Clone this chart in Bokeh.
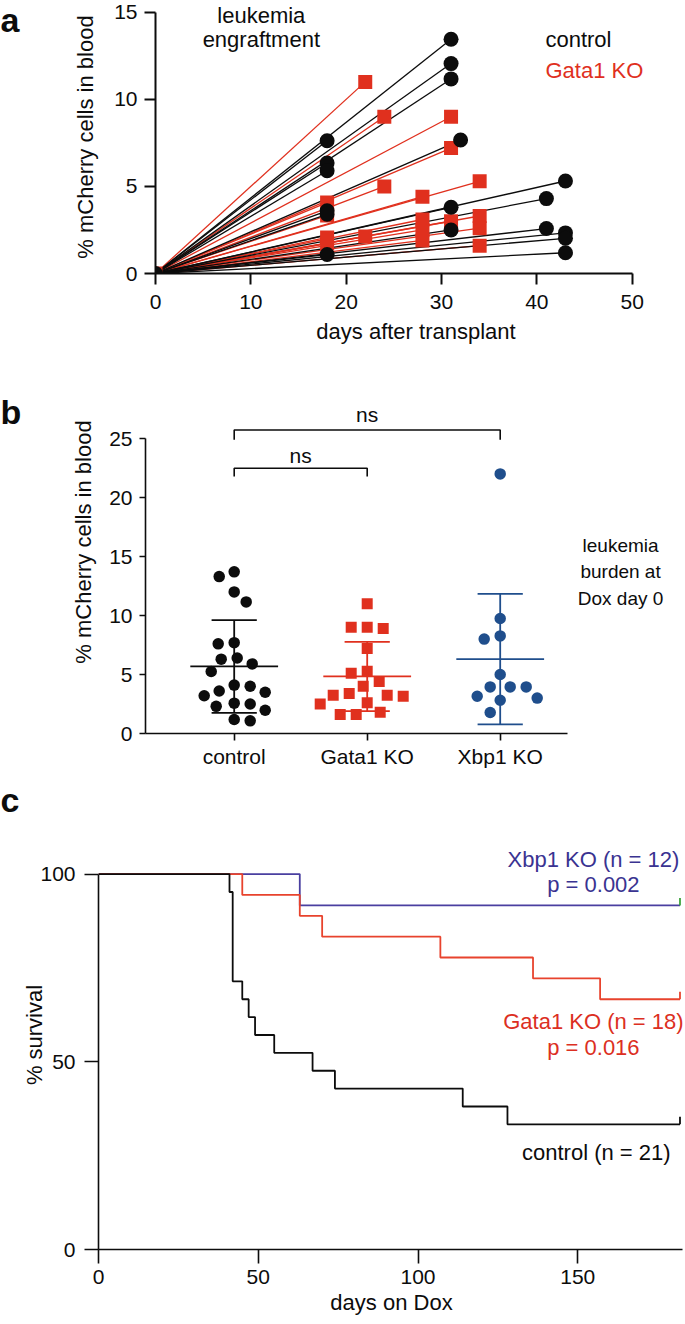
import numpy as np
from bokeh.plotting import figure
from bokeh.layouts import column, row
from bokeh.models import Range1d, FixedTicker
from bokeh.embed import file_html
from bokeh.resources import INLINE
from bokeh.core.properties import value

# ---------------- data: panel a (engraftment) ----------------
a_control_day = [18, 18, 18, 18, 18, 18, 31, 31, 31, 31, 31, 32, 41, 41, 43, 43, 43, 43]
a_control_pct = [7.62, 6.34, 5.9, 3.6, 3.4, 1.09, 13.45, 12.05, 11.17, 3.8, 2.5, 7.66,
                 4.3, 2.58, 5.31, 2.33, 2.02, 1.19]
a_gata1_day = [18, 18, 18, 18, 22, 22, 24, 24, 28, 28, 28, 28, 31, 31, 31, 34, 34, 34, 34]
a_gata1_pct = [4.07, 3.33, 2.07, 1.72, 11.0, 2.12, 9.0, 5.0, 4.41, 3.1, 2.5, 1.9,
               9.0, 7.2, 3.0, 5.29, 3.3, 2.6, 1.6]
a_xticks = [0, 10, 20, 30, 40, 50]
a_yticks = [0, 5, 10, 15]

# ---------------- data: panel b (burden at Dox day 0) ----------------
b_categories = ["control", "Gata1 KO", "Xbp1 KO"]
b_control = [13.7, 13.3, 12.0, 11.15, 7.6, 7.7, 6.3, 6.4, 5.9, 5.25, 4.0, 4.1, 3.2, 3.5,
             3.6, 2.3, 1.97, 2.5, 2.57, 1.07, 1.19]
b_gata1 = [11.0, 8.9, 9.0, 9.0, 7.2, 5.28, 5.1, 4.4, 3.4, 4.0, 2.6, 2.5, 3.25, 3.15,
           3.25, 1.6, 1.6, 1.8]
b_xbp1 = [22.0, 9.75, 8.27, 8.0, 5.0, 3.95, 3.95, 3.95, 3.16, 3.0, 2.82, 1.78]
b_yticks = [0, 5, 10, 15, 20, 25]

# ---------------- data: panel c (survival) ----------------
c_control_death = [41, 42, 42, 42, 42, 42, 45, 47, 49, 55, 67, 74, 114, 128]
c_control_censor = [182, 182, 182, 182, 182, 182, 182]
c_gata1_death = [45, 63, 70, 107, 136, 157]
c_gata1_censor = [182, 182, 182, 182, 182, 182, 182, 182, 182, 182, 182, 182]
c_xbp1_death = [63]
c_xbp1_censor = [182, 182, 182, 182, 182, 182, 182, 182, 182, 182, 182]
c_xticks = [0, 50, 100, 150]
c_yticks = [0, 50, 100]

FONT = "Liberation Sans"
BLACK = "#0c0c0c"
RED = "#e0301e"
BLUE = "#1f4e8c"
KM_RED = "#e8432d"
KM_BLUE = "#4a3fa0"
TXT_BLUE = "#3a3391"
TXT_RED = "#dc2f22"
GREEN = "#3ca33c"
STRIP = 24
W = 685
BASE_SHIFT = 0.35   # measured em offset of rendered baseline


def base_fig(**kw):
    return figure(output_backend="svg", toolbar_location=None, frame_align=False, **kw)


def style(p, tick_len, lw):
    for ax in (p.xaxis[0], p.yaxis[0]):
        ax.major_tick_out = tick_len
        ax.major_tick_in = 0
        ax.minor_tick_line_color = None
        ax.axis_line_width = lw
        ax.major_tick_line_width = lw
        ax.axis_line_color = BLACK
        ax.major_tick_line_color = BLACK
        ax.major_label_text_font = FONT
        ax.major_label_text_font_size = "21px"
        ax.major_label_text_color = BLACK
        ax.axis_label_text_font = FONT
        ax.axis_label_text_font_size = "22px"
        ax.axis_label_text_font_style = "normal"
        ax.axis_label_text_color = BLACK
    p.xgrid.visible = False
    p.ygrid.visible = False
    p.outline_line_color = None
    p.background_fill_color = "white"
    p.border_fill_color = "white"


def txt(p, x, y, s, ppy, color=BLACK, size=22, align="center"):
    # y is the wanted baseline (data units); lift by the measured render offset
    p.text(x=[x], y=[y + BASE_SHIFT * size / ppy], text=[s], text_font=value(FONT),
           text_font_size=value(f"{size}px"), text_color=color, text_align=align,
           text_baseline="alphabetic")


# ======================= panel a =======================
H1 = 350
W1 = W - STRIP
L1, R1, B1 = 131, W1 - 9, 273
ppx1, ppy1 = 9.534, 17.42
p1 = base_fig(width=W1, height=H1,
              x_range=Range1d(0, (R1 - L1) / ppx1), y_range=Range1d(0, B1 / ppy1),
              min_border_left=L1, min_border_right=W1 - R1, min_border_top=0,
              min_border_bottom=H1 - B1)
style(p1, 11, 2)
p1.xaxis.bounds = (a_xticks[0], a_xticks[-1])
p1.yaxis.bounds = (a_yticks[0], a_yticks[-1])
p1.xaxis.ticker = FixedTicker(ticks=a_xticks)
p1.yaxis.ticker = FixedTicker(ticks=a_yticks)
p1.xaxis.axis_label = "days after transplant"
p1.yaxis.axis_label = "% mCherry cells in blood"
p1.xaxis.major_label_standoff = 10
p1.xaxis.axis_label_standoff = 7
p1.yaxis.major_label_standoff = 7
p1.yaxis.axis_label_standoff = 13

p1.segment(x0=[0] * len(a_gata1_day), y0=[0] * len(a_gata1_day), x1=a_gata1_day,
           y1=a_gata1_pct, line_color=RED, line_width=1.3)
p1.segment(x0=[0] * len(a_control_day), y0=[0] * len(a_control_day), x1=a_control_day,
           y1=a_control_pct, line_color=BLACK, line_width=1.3)
p1.scatter(x=a_gata1_day + [0], y=a_gata1_pct + [0], marker="square", size=14,
           fill_color=RED, line_color=None)
p1.scatter(x=a_control_day + [0], y=a_control_pct + [0], marker="circle", size=15,
           fill_color=BLACK, line_color=None)
txt(p1, 11.1, 14.35, "leukemia", ppy1)
txt(p1, 11.1, 13.0, "engraftment", ppy1)
txt(p1, 40.9, 13.0, "control", ppy1, align="left")
txt(p1, 40.9, 11.21, "Gata1 KO", ppy1, color=RED, align="left")

# ======================= panel b =======================
H2 = 470
W2 = W - STRIP
L2, R2, B2 = 121, W2 - 2, 383
ppx2, c1px = 133.0, 209.7
ppy2 = 11.8
xs2 = 1 - (c1px - L2) / ppx2
p2 = base_fig(width=W2, height=H2,
              x_range=Range1d(xs2, 1 + (R2 - c1px) / ppx2),
              y_range=Range1d(0, B2 / ppy2),
              min_border_left=L2, min_border_right=W2 - R2, min_border_top=0,
              min_border_bottom=H2 - B2)
style(p2, 6, 1.6)
cat_pos = [1, 2, 3]
p2.xaxis.bounds = (xs2, 3.506)
p2.yaxis.bounds = (b_yticks[0], b_yticks[-1])
p2.xaxis.ticker = FixedTicker(ticks=cat_pos)
p2.xaxis.major_label_overrides = {c: n for c, n in zip(cat_pos, b_categories)}
p2.xaxis.major_tick_out = 7
p2.yaxis.ticker = FixedTicker(ticks=b_yticks)
p2.yaxis.axis_label = "% mCherry cells in blood"
p2.xaxis.major_label_standoff = 4
p2.yaxis.major_label_standoff = 7
p2.yaxis.axis_label_standoff = 10


def swarm(vals, diam):
    n = len(vals)
    order = sorted(range(n), key=lambda i: -vals[i])
    placed = []
    offs = [0.0] * n
    left = right = 0
    for i in order:
        y = vals[i] * ppy2
        chosen = 0
        for d in range(0, 80):
            cands = [0] if d == 0 else ([-d, d] if left <= right else [d, -d])
            ok = None
            for c in cands:
                if all((c - ox) ** 2 + (y - oy) ** 2 >= diam ** 2 for ox, oy in placed):
                    ok = c
                    break
            if ok is not None:
                chosen = ok
                break
        if chosen < 0:
            left += 1
        elif chosen > 0:
            right += 1
        placed.append((chosen, y))
        offs[i] = chosen / ppx2
    return offs


groups = [(b_control, "circle", 11.5, BLACK), (b_gata1, "square", 11, RED),
          (b_xbp1, "circle", 11.5, BLUE)]
for pos, (vals, mk, sz, col) in zip(cat_pos, groups):
    offs = swarm(vals, 15.5)
    p2.scatter(x=[pos + o for o in offs], y=vals, marker=mk, size=sz,
               fill_color=col, line_color=None)
for pos, (vals, mk, sz, col) in zip(cat_pos, groups):
    m = float(np.mean(vals))
    sd = float(np.std(vals, ddof=1))
    p2.segment(x0=[pos - 0.33, pos - 0.17, pos - 0.17, pos],
               x1=[pos + 0.33, pos + 0.17, pos + 0.17, pos],
               y0=[m, m + sd, m - sd, m - sd], y1=[m, m + sd, m - sd, m + sd],
               line_color=col, line_width=1.8)

p2.line(x=[1, 1, 3, 3], y=[24.89, 25.72, 25.72, 24.89], line_color=BLACK, line_width=1.6)
p2.line(x=[1, 1, 2, 2], y=[21.78, 22.48, 22.48, 21.78], line_color=BLACK, line_width=1.6)
txt(p2, 2.0, 26.38, "ns", ppy2, size=21)
txt(p2, 1.5, 22.9, "ns", ppy2, size=21)
txt(p2, 3.905, 15.38, "leukemia", ppy2, size=19)
txt(p2, 3.905, 13.14, "burden at", ppy2, size=19)
txt(p2, 3.905, 10.89, "Dox day 0", ppy2, size=19)

# ======================= panel letters strip =======================
HS = H1 + H2
LET = 34
strip = base_fig(width=STRIP, height=HS, x_range=Range1d(0, STRIP),
                 y_range=Range1d(HS, 0), x_axis_type=None, y_axis_type=None,
                 min_border=0)
strip.xgrid.visible = False
strip.ygrid.visible = False
strip.outline_line_color = None
strip.text(x=[0, 0, 0], y=[b - BASE_SHIFT * LET for b in (31, 423, 811)],
           text=["a", "b", "c"], text_font=value(FONT),
           text_font_size=value(f"{LET}px"), text_font_style="bold", text_color=BLACK,
           text_align="left", text_baseline="alphabetic")

# ======================= panel c =======================
H3 = 1324 - HS
L3, R3 = 98, 684
B3 = 1249 - HS
ppx3, ppy3 = 3.195, 3.754
p3 = base_fig(width=W, height=H3,
              x_range=Range1d(0, (R3 - L3) / ppx3), y_range=Range1d(0, B3 / ppy3),
              min_border_left=L3, min_border_right=W - R3, min_border_top=0,
              min_border_bottom=H3 - B3)
style(p3, 14, 1.6)
p3.xaxis.bounds = (0, 182.7)
p3.yaxis.bounds = (c_yticks[0], c_yticks[-1])
p3.xaxis.ticker = FixedTicker(ticks=c_xticks)
p3.yaxis.ticker = FixedTicker(ticks=c_yticks)
p3.xaxis.axis_label = "days on Dox"
p3.yaxis.axis_label = "% survival"
p3.xaxis.major_label_standoff = 6
p3.xaxis.axis_label_standoff = 3
p3.yaxis.major_label_standoff = 9
p3.yaxis.axis_label_standoff = -10


def km(deaths, censored):
    n = len(deaths) + len(censored)
    xs, ys, s = [0], [100.0], 1.0
    for t in sorted(set(deaths)):
        d = deaths.count(t)
        at_risk = n - sum(1 for v in deaths if v < t) - sum(1 for v in censored if v < t)
        s *= 1 - d / at_risk
        xs.append(t)
        ys.append(100 * s)
    xs.append(max(censored))
    ys.append(100 * s)
    return xs, ys


tick_up = 7.5 / ppy3
for deaths, cens, col, ccol in [(c_xbp1_death, c_xbp1_censor, KM_BLUE, GREEN),
                                (c_gata1_death, c_gata1_censor, KM_RED, KM_RED),
                                (c_control_death, c_control_censor, BLACK, BLACK)]:
    xs, ys = km(deaths, cens)
    p3.step(x=xs, y=ys, mode="after", line_color=col, line_width=1.8)
    ct = sorted(set(cens))
    p3.segment(x0=ct, x1=ct, y0=[ys[-1]] * len(ct), y1=[ys[-1] + tick_up] * len(ct),
               line_color=ccol, line_width=1.8)

txt(p3, 154.9, 101.9, "Xbp1 KO (n = 12)", ppy3, color=TXT_BLUE)
txt(p3, 154.9, 95.1, "p = 0.002", ppy3, color=TXT_BLUE)
txt(p3, 154.9, 58.7, "Gata1 KO (n = 18)", ppy3, color=TXT_RED)
txt(p3, 154.9, 51.8, "p = 0.016", ppy3, color=TXT_RED)
txt(p3, 155.8, 23.9, "control (n = 21)", ppy3)

layout = column(row(strip, column(p1, p2, spacing=0), spacing=0), p3, spacing=0)
open("out.html", "w").write(file_html(layout, INLINE))
